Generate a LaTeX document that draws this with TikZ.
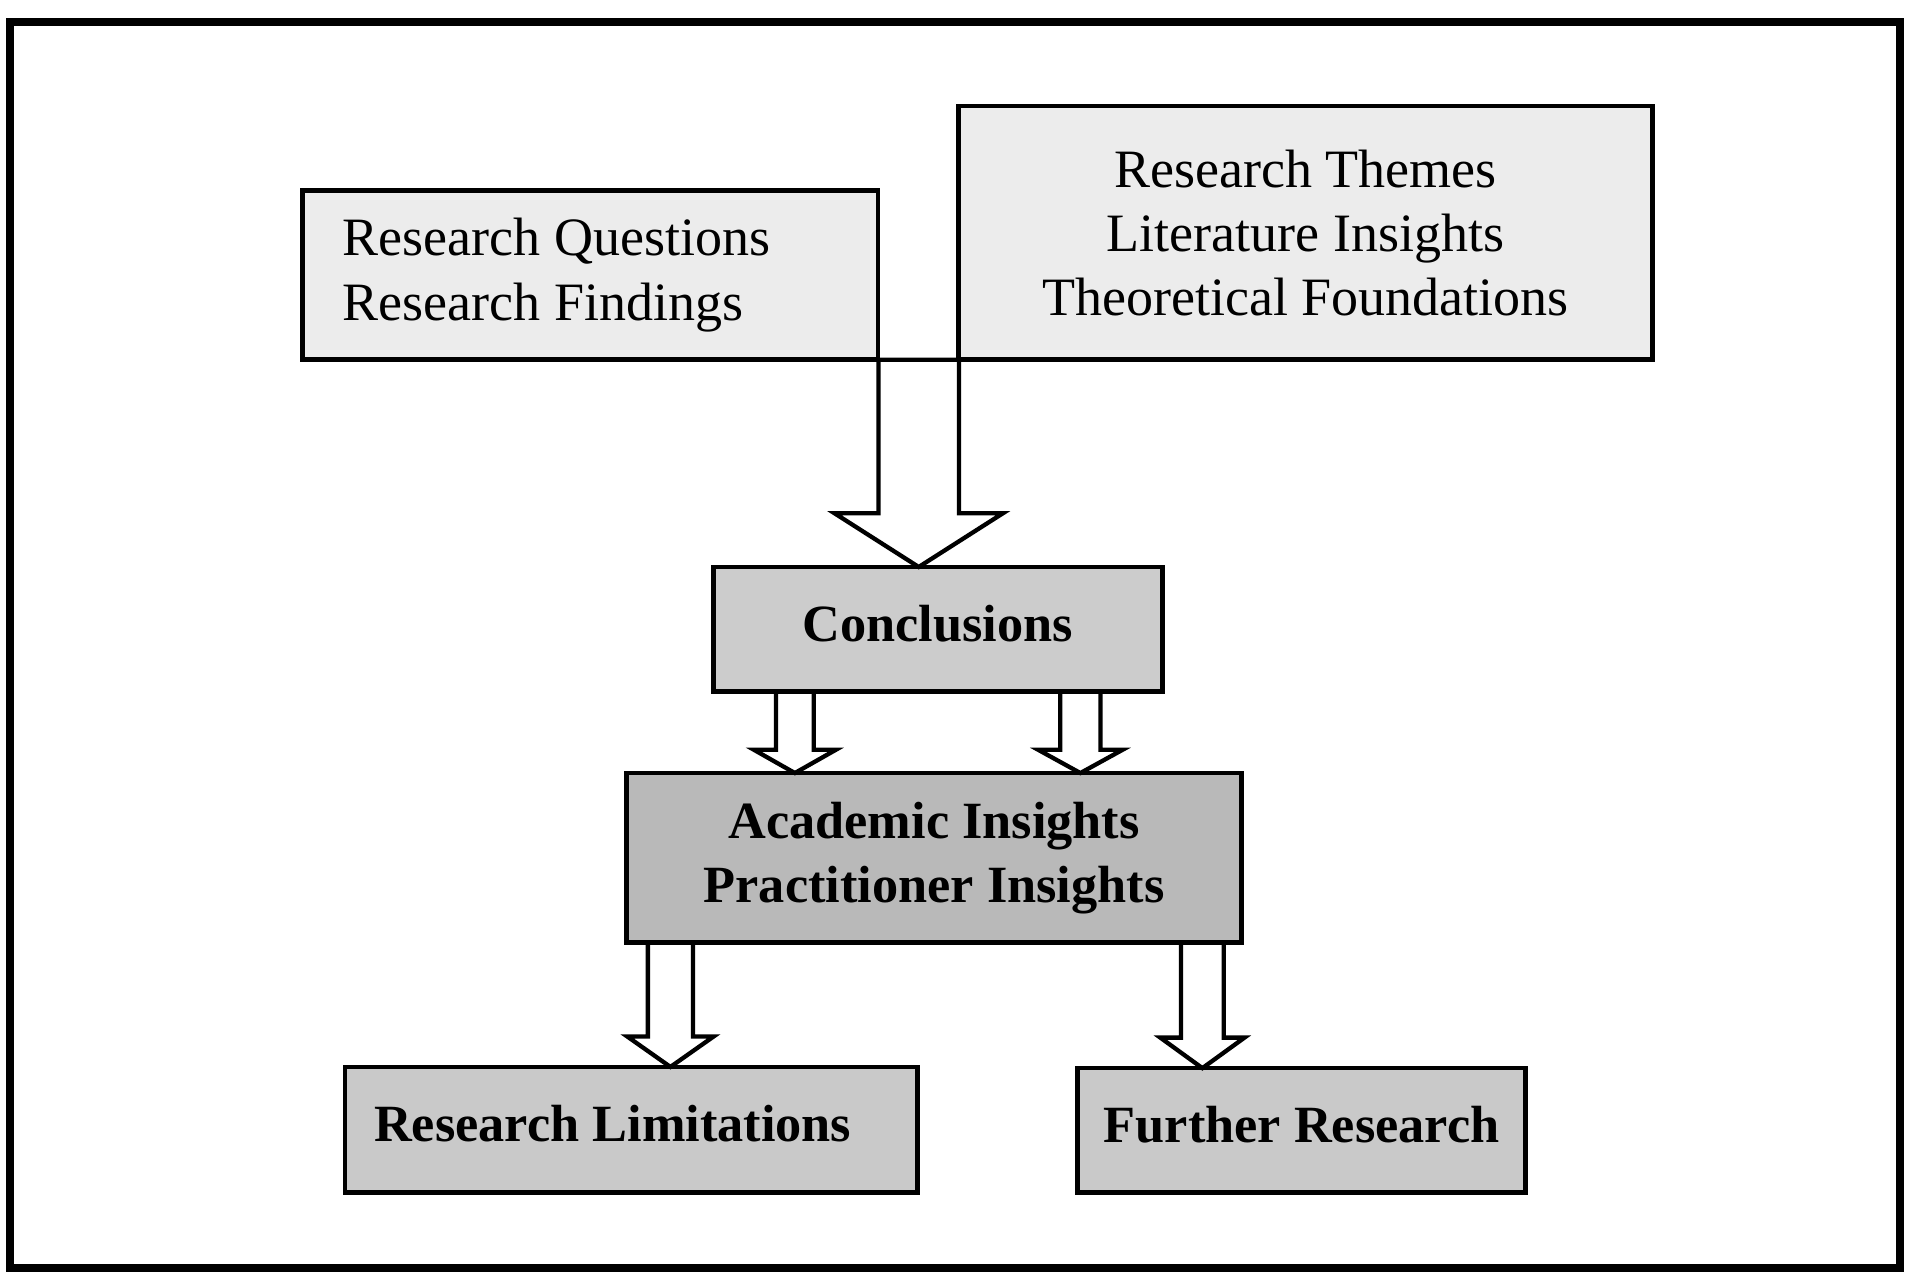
\documentclass[tikz,border=0pt]{standalone}
\usepackage{fontspec}
\setmainfont{Liberation Serif}
\usetikzlibrary{calc}

% hollow block arrow from the bottom of one box to the top of another
% #1 source node, #2 target node, #3 shaft left x, #4 shaft right x,
% #5 wing overhang, #6 head length
\newcommand\blockarrow[6]{%
  \draw[arrowline] let \p1=(#1.south), \p2=(#2.north) in
    (#3,\y1) -- (#3,{\y2+#6}) -- ({#3-#5},{\y2+#6})
    -- ({(#3+#4)/2},\y2)
    -- ({#4+#5},{\y2+#6}) -- (#4,{\y2+#6}) -- (#4,\y1) -- cycle;
}

\tikzset{
  frameline/.style={line width=1.8pt},
  box/.style={draw, line width=1.1pt, rectangle, inner ysep=0pt, outer sep=0pt},
  topbox/.style={box, fill=gray!15, font=\fontsize{12.6}{15}\selectfont},
  midbox/.style={box, font=\bfseries\fontsize{12.2}{15}\selectfont},
  arrowline/.style={line width=1pt, line join=miter},
}

\begin{document}
\begin{tikzpicture}[x=0.01cm, y=-0.01cm]
  \useasboundingbox (0,0) rectangle (1568,1046);
  \fill[white] (0,0) rectangle (1568,1046);

  % outer frame
  \draw[frameline] (8,18) rectangle (1558,1040);

  % source boxes
  \node[topbox, minimum height=1.39cm, text width=4.06cm, inner xsep=0.33cm,
        align=flush left] (rq) at (484,225.5)
        {Research Questions\\Research Findings};
  \node[topbox, minimum width=5.69cm, minimum height=2.08cm, align=center]
        (rt) at (1070.5,191)
        {Research Themes\\Literature Insights\\Theoretical Foundations};

  % conclusions and insights
  \node[midbox, fill=gray!40, minimum width=3.68cm, minimum height=1.02cm,
        text height=0.3cm, text depth=0.1cm] (concl) at (769,516) {Conclusions};
  \node[midbox, fill=gray!55, minimum width=5.04cm, minimum height=1.39cm,
        align=center] (acad) at (766,703.5)
        {Academic Insights\\Practitioner Insights};

  % outcome boxes
  \node[midbox, fill=gray!42, minimum height=1.03cm, text width=4.21cm,
        inner xsep=0.24cm, align=flush left, text height=0.3cm, text depth=0.1cm]
        (rl) at (517.5,926.5) {Research Limitations};
  \node[midbox, fill=gray!42, minimum width=3.67cm, minimum height=1.02cm,
        text height=0.3cm, text depth=0.1cm] (fr) at (1067.5,927) {Further Research};

  % connectors
  \blockarrow{rq}{concl}{7.20cm}{7.86cm}{0.36cm}{0.44cm}
  \blockarrow{concl}{acad}{6.36cm}{6.67cm}{0.18cm}{0.19cm}
  \blockarrow{concl}{acad}{8.69cm}{9.02cm}{0.18cm}{0.19cm}
  \blockarrow{acad}{rl}{5.31cm}{5.68cm}{0.17cm}{0.25cm}
  \blockarrow{acad}{fr}{9.68cm}{10.03cm}{0.17cm}{0.25cm}
\end{tikzpicture}
\end{document}
